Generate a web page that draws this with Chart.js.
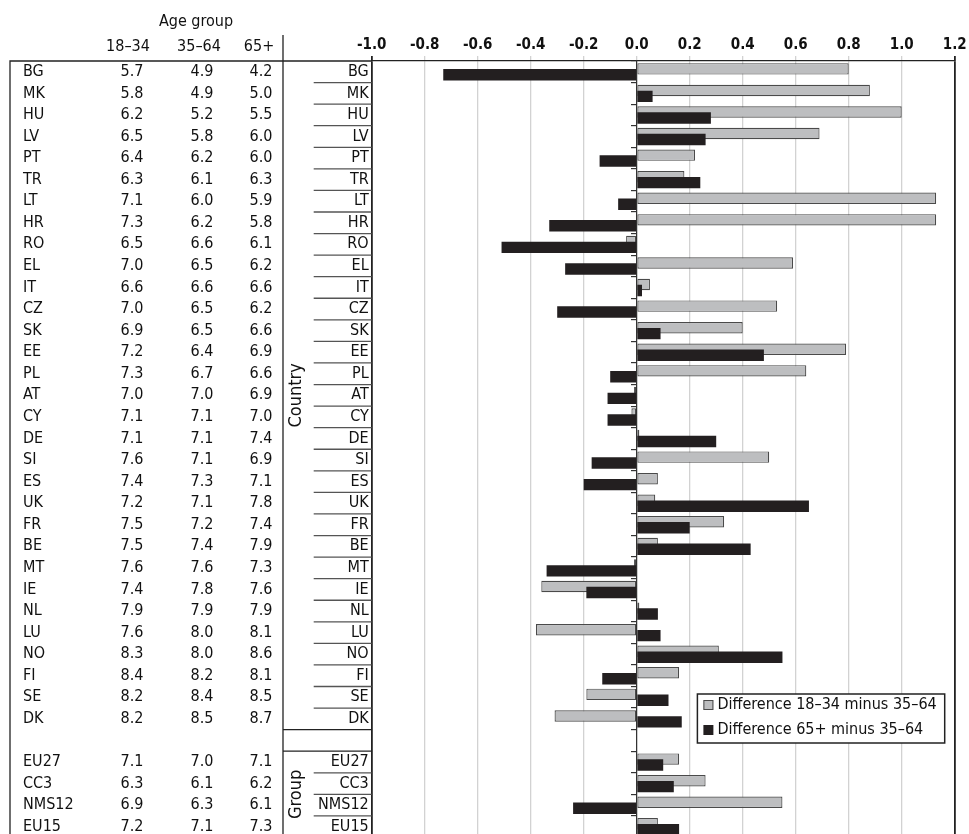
<!DOCTYPE html>
<html>
<head>
<meta charset="utf-8">
<title>Differences in life satisfaction by age group</title>
<script src="https://cdn.jsdelivr.net/npm/chart.js@4.4.1/dist/chart.umd.min.js"></script>
<style>
  html, body { margin: 0; padding: 0; background: #fff; overflow: hidden; }
  #wrap { position: relative; width: 969px; height: 850px; }
</style>
</head>
<body>
<div id="wrap"><canvas id="diffChart"></canvas></div>
<script>
// Rows of the table / chart (blank row separates countries from groups)
const categories = ['BG', 'MK', 'HU', 'LV', 'PT', 'TR', 'LT', 'HR', 'RO', 'EL', 'IT', 'CZ', 'SK', 'EE', 'PL', 'AT',
    'CY', 'DE', 'SI', 'ES', 'UK', 'FR', 'BE', 'MT', 'IE', 'NL', 'LU', 'NO', 'FI', 'SE', 'DK', '',
    'EU27', 'CC3', 'NMS12', 'EU15'];

// Mean scores per age group (left table)
const ageGroups = ['18–34', '35–64', '65+'];
const age18to34 = [5.7, 5.8, 6.2, 6.5, 6.4, 6.3, 7.1, 7.3, 6.5, 7.0, 6.6, 7.0, 6.9, 7.2, 7.3, 7.0,
    7.1, 7.1, 7.6, 7.4, 7.2, 7.5, 7.5, 7.6, 7.4, 7.9, 7.6, 8.3, 8.4, 8.2, 8.2, null,
    7.1, 6.3, 6.9, 7.2];
const age35to64 = [4.9, 4.9, 5.2, 5.8, 6.2, 6.1, 6.0, 6.2, 6.6, 6.5, 6.6, 6.5, 6.5, 6.4, 6.7, 7.0,
    7.1, 7.1, 7.1, 7.3, 7.1, 7.2, 7.4, 7.6, 7.8, 7.9, 8.0, 8.0, 8.2, 8.4, 8.5, null,
    7.0, 6.1, 6.3, 7.1];
const age65plus = [4.2, 5.0, 5.5, 6.0, 6.0, 6.3, 5.9, 5.8, 6.1, 6.2, 6.6, 6.2, 6.6, 6.9, 6.6, 6.9,
    7.0, 7.4, 6.9, 7.1, 7.8, 7.4, 7.9, 7.3, 7.6, 7.9, 8.1, 8.6, 8.1, 8.5, 8.7, null,
    7.1, 6.2, 6.1, 7.3];

// Bar values
const diffYoung = [0.80, 0.88, 1.00, 0.69, 0.22, 0.18, 1.13, 1.13, -0.04, 0.59, 0.05, 0.53, 0.40, 0.79, 0.64, -0.01,
    -0.02, 0.01, 0.50, 0.08, 0.07, 0.33, 0.08, -0.01, -0.36, 0.01, -0.38, 0.31, 0.16, -0.19, -0.31, null,
    0.16, 0.26, 0.55, 0.08];
const diffOld = [-0.73, 0.06, 0.28, 0.26, -0.14, 0.24, -0.07, -0.33, -0.51, -0.27, 0.02, -0.30, 0.09, 0.48, -0.10, -0.11,
    -0.11, 0.30, -0.17, -0.20, 0.65, 0.20, 0.43, -0.34, -0.19, 0.08, 0.09, 0.55, -0.13, 0.12, 0.17, null,
    0.10, 0.14, -0.24, 0.16];

// Row groups shown with rotated titles
const rowGroups = [
    { name: 'Country', from: 0, to: 30 },
    { name: 'Group', from: 32, to: 35 }
];

const FONT = "'Liberation Sans Narrow', 'DejaVu Sans Condensed', 'Liberation Sans', sans-serif";
Chart.defaults.font.family = FONT;
Chart.defaults.color = '#111';

// Excel-like overlap: shift the two bar series apart inside each row
const overlapPlugin = {
    id: 'overlap',
    afterDatasetsUpdate(chart) {
        const area = chart.chartArea;
        const rowH = (area.bottom - area.top) / categories.length;
        chart.getDatasetMeta(0).data.forEach(b => { b.y -= rowH * 0.135; });
        chart.getDatasetMeta(1).data.forEach(b => { b.y += rowH * 0.14; });
    }
};

// Left table, category labels and group titles
const tablePlugin = {
    id: 'sideTable',
    afterDraw(chart) {
        const ctx = chart.ctx;
        const yScale = chart.scales.y;
        const area = chart.chartArea;
        const rowH = (area.bottom - area.top) / categories.length;
        const H = chart.height;
        const edge = i => area.top + i * rowH;

        ctx.save();
        ctx.fillStyle = '#111';
        ctx.font = '16px ' + FONT;
        ctx.textBaseline = 'middle';

        // header
        ctx.textAlign = 'center';
        ctx.fillText('Age group', 196, 22);
        const colX = [128, 199, 259];
        ageGroups.forEach((g, k) => ctx.fillText(g, colX[k], 47));

        // frame lines
        ctx.strokeStyle = '#222';
        ctx.lineWidth = 1.3;
        ctx.beginPath();
        ctx.moveTo(10, H); ctx.lineTo(10, area.top);
        ctx.lineTo(area.left, area.top);
        ctx.moveTo(283, 35); ctx.lineTo(283, H);
        ctx.stroke();

        // rows
        const numX = [132, 202, 261];
        categories.forEach((c, i) => {
            if (!c) return;
            const y = yScale.getPixelForValue(i);
            ctx.textAlign = 'left';
            ctx.fillText(c, 23, y);
            ctx.textAlign = 'center';
            [age18to34, age35to64, age65plus].forEach((arr, k) => {
                if (arr[i] != null) ctx.fillText(arr[i].toFixed(1), numX[k], y);
            });
            ctx.textAlign = 'right';
            ctx.fillText(c, area.left - 3, y);
        });

        // category separators
        ctx.strokeStyle = '#555';
        ctx.lineWidth = 1.3;
        rowGroups.forEach(g => {
            for (let i = g.from + 1; i <= g.to; i++) {
                ctx.beginPath();
                ctx.moveTo(area.left - 58, edge(i));
                ctx.lineTo(area.left, edge(i));
                ctx.stroke();
            }
        });
        ctx.strokeStyle = '#222';
        [31, 32].forEach(i => {
            ctx.beginPath();
            ctx.moveTo(283, edge(i));
            ctx.lineTo(area.left, edge(i));
            ctx.stroke();
        });

        // rotated group titles
        ctx.font = '18px ' + FONT;
        ctx.textAlign = 'center';
        rowGroups.forEach(g => {
            const cy = (edge(g.from) + edge(g.to + 1)) / 2;
            ctx.save();
            ctx.translate(296, cy);
            ctx.rotate(-Math.PI / 2);
            ctx.fillText(g.name, 0, 0);
            ctx.restore();
        });
        ctx.restore();
    }
};

// Legend box inside the plot area
const legendPlugin = {
    id: 'boxLegend',
    afterDraw(chart) {
        const ctx = chart.ctx;
        const area = chart.chartArea;
        const sets = chart.data.datasets;
        ctx.save();
        ctx.font = '16px ' + FONT;
        const textW = Math.max(...sets.map(d => ctx.measureText(d.label).width));
        const w = textW + 28;
        const x = area.right - 10 - w;
        const top = area.top + 633;
        const h = 49;
        ctx.fillStyle = '#fff';
        ctx.fillRect(x, top, w, h);
        ctx.strokeStyle = '#222';
        ctx.lineWidth = 1.5;
        ctx.strokeRect(x, top, w, h);
        sets.forEach((d, k) => {
            const cy = top + 11 + k * 25;
            ctx.fillStyle = d.backgroundColor;
            ctx.fillRect(x + 6, cy - 5, 10, 10);
            if (d.borderWidth) {
                ctx.strokeStyle = d.borderColor;
                ctx.lineWidth = 1;
                ctx.strokeRect(x + 6.5, cy - 4.5, 9, 9);
            }
            ctx.fillStyle = '#111';
            ctx.textAlign = 'left';
            ctx.textBaseline = 'middle';
            ctx.fillText(d.label, x + 20, cy);
        });
        ctx.restore();
    }
};

const edgeTick = v => Math.abs(v + 1) < 1e-6 || Math.abs(v - 1.2) < 1e-6;

new Chart(document.getElementById('diffChart'), {
    type: 'bar',
    data: {
        labels: categories,
        datasets: [{
            label: 'Difference 18–34 minus 35–64',
            data: diffYoung,
            backgroundColor: '#bdbec0',
            borderColor: '#4a4a4a',
            borderWidth: 1.2,
            borderSkipped: false,
            order: 1
        }, {
            label: 'Difference 65+ minus 35–64',
            data: diffOld,
            backgroundColor: '#231f20',
            borderWidth: 0,
            order: 0
        }]
    },
    options: {
        indexAxis: 'y',
        responsive: true,
        maintainAspectRatio: false,
        animation: false,
        grouped: false,
        barPercentage: 0.53,
        categoryPercentage: 1,
        layout: { padding: { left: 371.7, right: 14.3, top: 0, bottom: 12.5 } },
        plugins: { legend: { display: false }, tooltip: { enabled: false } },
        scales: {
            x: {
                position: 'top',
                min: -1,
                max: 1.2,
                afterFit: s => { s.height = 61; },
                ticks: {
                    stepSize: 0.2,
                    padding: 2,
                    color: '#111',
                    font: { size: 15, weight: 'bold' },
                    callback: v => (Math.abs(v) < 1e-9 ? 0 : v).toFixed(1)
                },
                grid: {
                    tickLength: 5,
                    color: c => edgeTick(c.tick.value) ? '#222' : '#d2d2d2',
                    lineWidth: c => edgeTick(c.tick.value) ? 1.8 : 1.3
                },
                border: { color: '#222', width: 1.3 }
            },
            y: {
                type: 'category',
                position: { x: 0 },
                offset: true,
                ticks: { display: false },
                grid: { drawOnChartArea: false, offset: true, tickLength: 5, color: '#333', lineWidth: 1.2 },
                border: { color: '#333', width: 1.2 }
            }
        }
    },
    plugins: [overlapPlugin, tablePlugin, legendPlugin]
});
</script>
</body>
</html>
